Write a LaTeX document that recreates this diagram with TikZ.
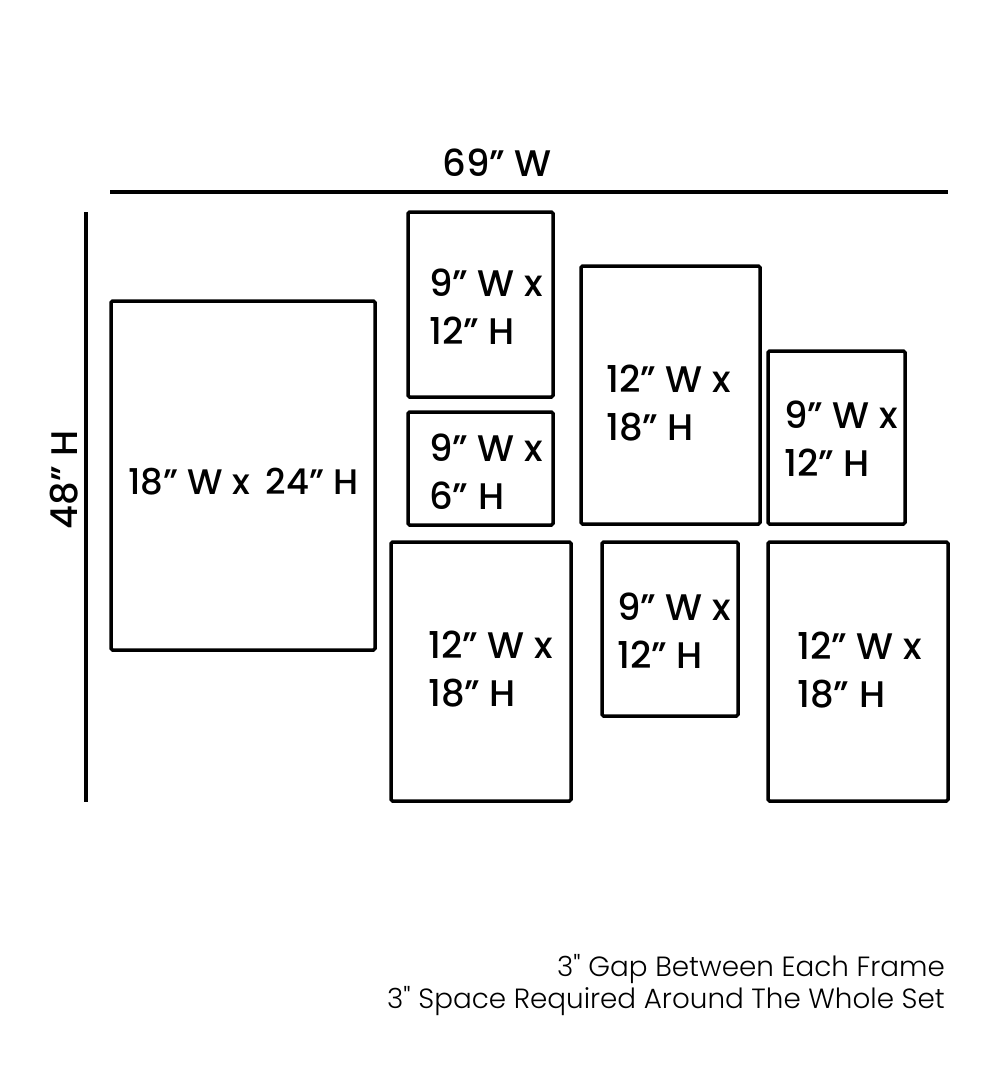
\documentclass[tikz,border=0pt]{standalone}
\usepackage{fontspec}
\newfontfamily\labfont{Poppins Medium}
\newfontfamily\notefont{Poppins Light}
\begin{document}
\begin{tikzpicture}[x=1pt,y=-1pt,
  frame/.style={draw=black, line width=3.5pt, rounded corners=1.5pt, inner sep=0pt, outer sep=0pt, anchor=north west},
  lab/.style={anchor=west, align=left, inner sep=0pt, font=\labfont\fontsize{37}{48}\selectfont},
  dimline/.style={line width=3.5pt},
  note/.style={anchor=east, inner sep=0pt, font=\notefont\fontsize{27.8}{33}\selectfont}]
\fill[white] (0,0) rectangle (1000,1081);
\useasboundingbox (0,0) rectangle (1000,1081);
% dimension lines
\coordinate (tl) at (110,192);
\coordinate (tr) at (948,192);
\coordinate (lt) at (86,212);
\coordinate (lb) at (86,802);
\draw[dimline] (tl) -- (tr);
\draw[dimline] (lt) -- (lb);
\node[lab, anchor=center] (wlab) at (497,163) {69” W};
\node[lab, anchor=center, rotate=90] (hlab) at (64,480) {48” H};
% frames
\node[frame, minimum width=264pt, minimum height=349pt] (big) at (111,301) {};
\node[frame, minimum width=145pt, minimum height=185pt] (f1) at (408,212) {};
\node[frame, minimum width=145pt, minimum height=113pt] (f2) at (408,412) {};
\node[frame, minimum width=179pt, minimum height=258pt] (f3) at (581,266) {};
\node[frame, minimum width=137pt, minimum height=173pt] (f4) at (768,351) {};
\node[frame, minimum width=180pt, minimum height=259pt] (f5) at (391,542) {};
\node[frame, minimum width=136pt, minimum height=174pt] (f6) at (602,542) {};
\node[frame, minimum width=180pt, minimum height=259pt] (f7) at (768,542) {};
% labels
\node[lab, font=\labfont\fontsize{35.5}{48}\selectfont] (tbig) at (128,482) {18” W x\hspace{0.45em}24” H};
\node[lab] (t1) at (429,307) {9” W x\\12” H};
\node[lab] (t2) at (429,472) {9” W x\\6” H};
\node[lab] (t3) at (606,403) {12” W x\\18” H};
\node[lab] (t4) at (784,439) {9” W x\\12” H};
\node[lab] (t5) at (428,669) {12” W x\\18” H};
\node[lab] (t6) at (617,631) {9” W x\\12” H};
\node[lab] (t7) at (797,670) {12” W x\\18” H};
% notes
\node[note] (n1) at (945,969) {3" Gap Between Each Frame};
\node[note] (n2) at (945,1001) {3" Space Required Around The Whole Set};
\end{tikzpicture}
\end{document}
